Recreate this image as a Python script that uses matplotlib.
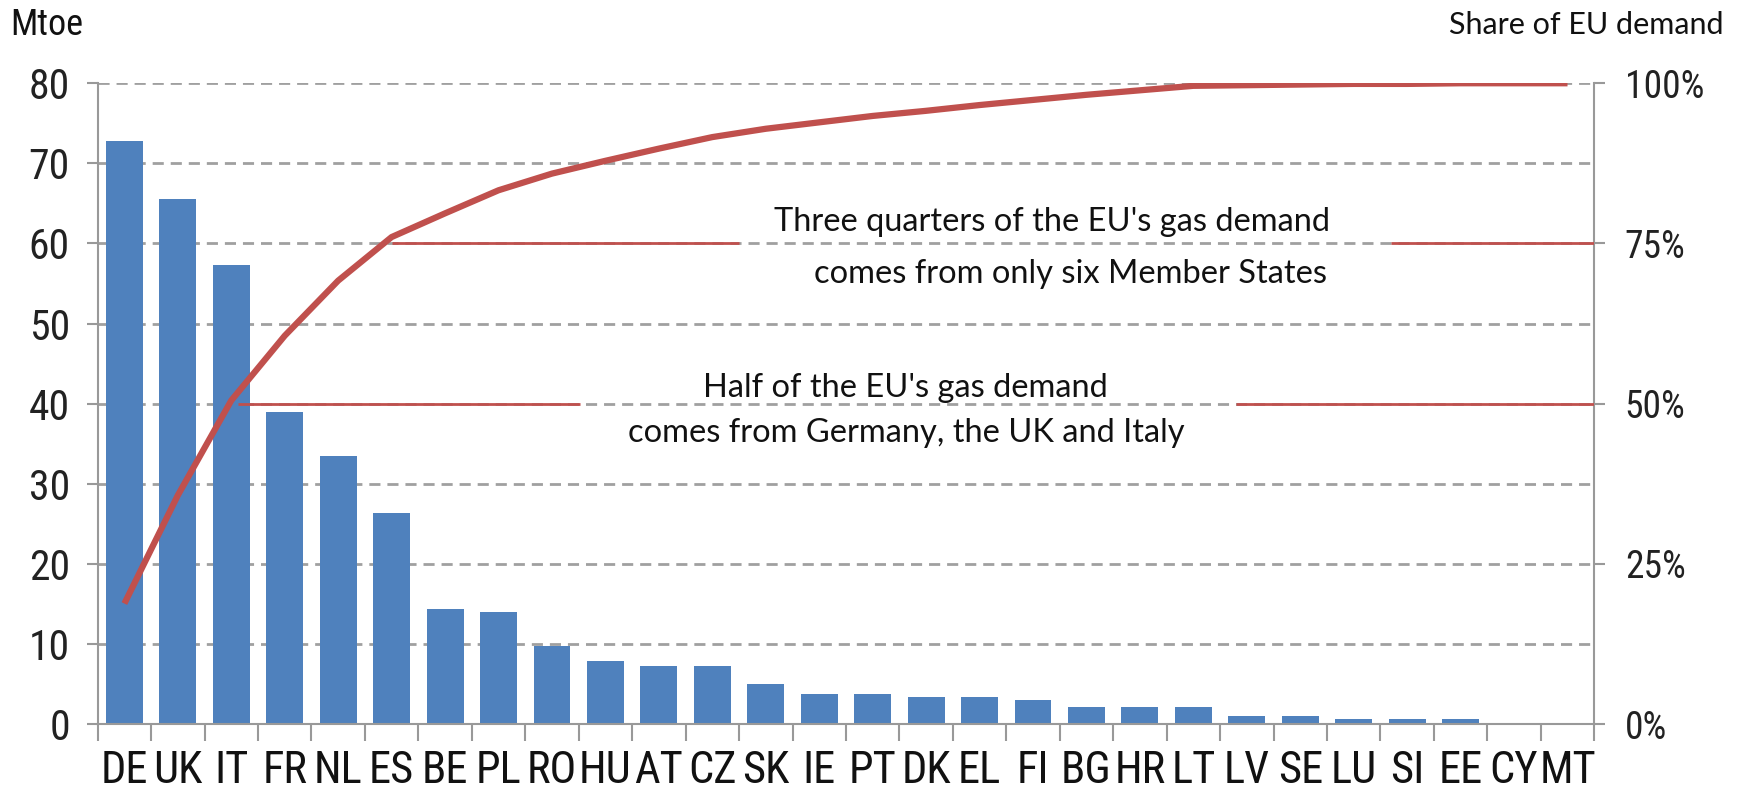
import matplotlib
matplotlib.use("Agg")
import matplotlib.pyplot as plt
from matplotlib import font_manager
import numpy as np

# data
countries = ["DE", "UK", "IT", "FR", "NL", "ES", "BE", "PL", "RO", "HU", "AT", "CZ", "SK", "IE",
             "PT", "DK", "EL", "FI", "BG", "HR", "LT", "LV", "SE", "LU", "SI", "EE", "CY", "MT"]
demand_mtoe = [72.8, 65.6, 57.3, 39.0, 33.4, 26.3, 14.3, 14.0, 9.8, 7.9, 7.2, 7.2, 5.0, 3.8,
               3.8, 3.4, 3.4, 3.0, 2.1, 2.1, 2.1, 1.0, 1.0, 0.6, 0.6, 0.6, 0.0, 0.0]
cum_share = [18.8, 35.7, 50.5, 60.6, 69.2, 76.0, 79.7, 83.3, 85.9, 87.9, 89.8, 91.6, 92.9, 93.9,
             94.9, 95.7, 96.6, 97.4, 98.2, 98.9, 99.6, 99.7, 99.8, 99.9, 99.9, 100.0, 100.0, 100.0]
left_ticks = [0, 10, 20, 30, 40, 50, 60, 70, 80]
right_ticks = [0, 25, 50, 75, 100]
right_labels = ["0%", "25%", "50%", "75%", "100%"]

BLUE = "#4F81BD"
RED = "#C0504D"
GREY = "#999999"

# pick a narrow font if one is installed
installed = set(f.name for f in font_manager.fontManager.ttflist)
narrow = "Liberation Sans"
for cand in ["Liberation Sans Narrow", "Roboto Condensed", "Open Sans Condensed"]:
    if cand in installed:
        narrow = cand
        break
tick_font = [narrow, "DejaVu Sans"]
note_font = ["Lato", "DejaVu Sans"]

fig = plt.figure(figsize=(17.41, 7.93), dpi=100)
ax = fig.add_axes([0.0561, 0.087, 0.8596, 0.808])
x = np.arange(len(countries))

ax.bar(x, demand_mtoe, width=0.69, color=BLUE, zorder=2)
ax.set_xlim(-0.5, len(countries) - 0.5)
ax.set_ylim(0, 80)
ax.set_yticks(left_ticks)
ax.set_yticklabels([str(t) for t in left_ticks], family=tick_font, fontsize=30, color="#222222")
for t in left_ticks[1:]:
    ax.axhline(t, color="#A0A0A0", lw=2, ls=(0, (4, 2.5)), zorder=1)

ax.set_xticks(x)
ax.set_xticklabels(countries, family=tick_font, fontsize=32, color="#111111")
ax.set_xticks(np.arange(len(countries) + 1) - 0.5, minor=True)
ax.tick_params(axis="x", which="major", length=0, pad=19)
ax.tick_params(axis="x", which="minor", length=12, width=1.5, color=GREY, direction="out")
ax.tick_params(axis="y", length=8, width=1.5, color=GREY, pad=12)
ax.spines["top"].set_visible(False)
ax.spines["right"].set_visible(False)
for s in ["left", "bottom"]:
    ax.spines[s].set_color(GREY)
    ax.spines[s].set_linewidth(1.5)

ax2 = ax.twinx()
ax2.set_ylim(0, 100)
ax2.set_yticks(right_ticks)
ax2.set_yticklabels(right_labels, family=tick_font, fontsize=27, color="#222222")
ax2.tick_params(axis="y", length=8, width=1.5, color=GREY, pad=14)
for s in ["top", "left", "bottom"]:
    ax2.spines[s].set_visible(False)
ax2.spines["right"].set_color(GREY)
ax2.spines["right"].set_linewidth(1.5)

# reference lines for 75% and 50%
es = countries.index("ES")
it = countries.index("IT")
ax2.hlines(75, es, 11.5, color=RED, lw=2, zorder=3)
ax2.hlines(75, 23.7, len(countries) - 0.5, color=RED, lw=2, zorder=3)
ax2.hlines(50, it + 0.12, 8.52, color=RED, lw=2, zorder=3)
ax2.hlines(50, 20.8, len(countries) - 0.5, color=RED, lw=2, zorder=3)

ax2.plot(x, cum_share, color=RED, lw=4.5, solid_capstyle="butt", zorder=4)

ax2.text(22.55, 78.4, "Three quarters of the EU's gas demand", ha="right", va="center",
         family=note_font, fontsize=23.5, color="#111111")
ax2.text(22.5, 70.3, "comes from only six Member States", ha="right", va="center",
         family=note_font, fontsize=23.5, color="#111111")
ax2.text(14.62, 52.4, "Half of the EU's gas demand", ha="center", va="center",
         family=note_font, fontsize=23.5, color="#111111")
ax2.text(14.62, 45.4, "comes from Germany, the UK and Italy", ha="center", va="center",
         family=note_font, fontsize=23.5, color="#111111")

fig.text(0.006, 0.968, "Mtoe", ha="left", va="center", family=tick_font, fontsize=26, color="#111111")
fig.text(0.99, 0.968, "Share of EU demand", ha="right", va="center", family=note_font,
         fontsize=22, color="#111111")

fig.savefig("out.png", dpi=100)
